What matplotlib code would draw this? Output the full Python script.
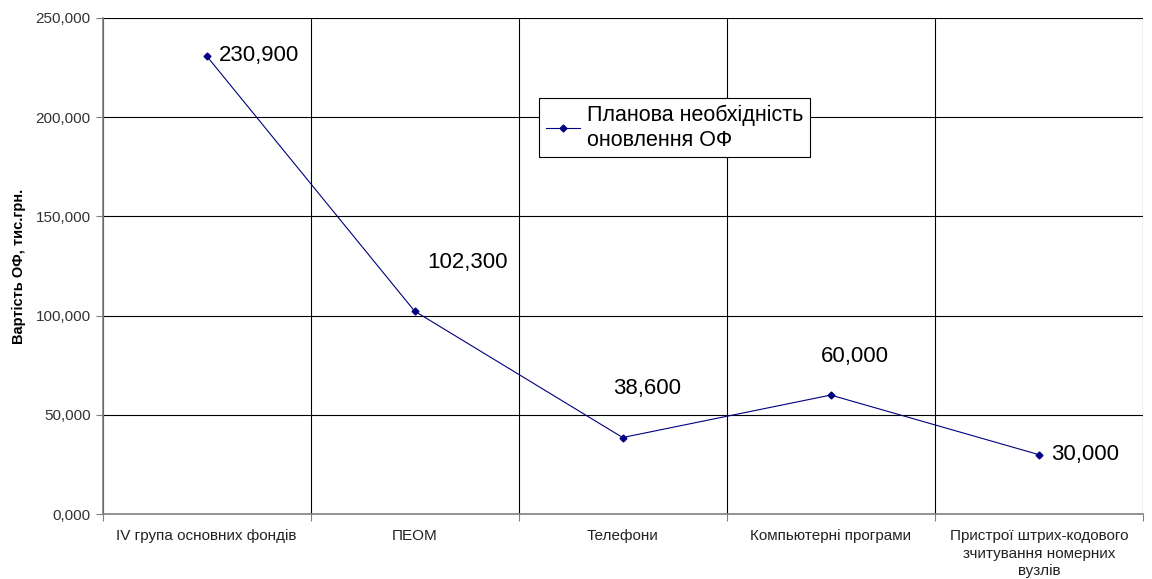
import numpy as np
import matplotlib
matplotlib.use("Agg")
from matplotlib import pyplot as plt
from matplotlib.ticker import FuncFormatter

plt.rcParams["font.family"] = ["Liberation Sans", "DejaVu Sans"]

# Data (тис.грн.)
categories = ["IV група основних фондів", "ПЕОМ", "Телефони", "Компьютерні програми",
              "Пристрої штрих-кодового\nзчитування номерних\nвузлів"]
values = [230.9, 102.3, 38.6, 60.0, 30.0]
label_offsets = [(9, 0), (9, 35), (-7, 35), (-7, 28), (9, 0)]  # points, as moved in the source
series_name = "Планова необхідність\nоновлення ОФ"

def comma_fmt(v, pos=None):
    return "{:,.3f}".format(v).replace(",", " ").replace(".", ",").replace(" ", "")

fig = plt.figure(figsize=(11.52, 5.79), dpi=100)
ax = fig.add_axes([0.089, 0.112, 0.903, 0.857])

x = np.arange(len(values)) + 0.5
ax.plot(x, values, color="#000080", lw=0.8, marker="D", markersize=3.5,
        markerfacecolor="#000080", markeredgecolor="#000080", label=series_name, zorder=3)

for xi, v, off in zip(x, values, label_offsets):
    ax.annotate(comma_fmt(v), (xi, v), xytext=off, textcoords="offset points",
                ha="left", va="center", fontsize=16, color="black")

ax.set_xlim(0, len(values))
ax.set_ylim(0, 250)
ax.set_yticks(np.arange(0, 251, 50))
ax.yaxis.set_major_formatter(FuncFormatter(comma_fmt))
ax.set_xticks(np.arange(0, len(values) + 1))
ax.set_xticklabels([])
ax.set_xticks(x, minor=True)
ax.set_xticklabels(categories, minor=True, fontsize=11, color="#222222", linespacing=1.3)
ax.tick_params(axis="x", which="minor", length=0, pad=11)
ax.tick_params(axis="x", which="major", length=5, color="#808080")
ax.tick_params(axis="y", length=5, color="#808080", labelsize=11, labelcolor="#333333")

ax.grid(True, which="major", color="black", lw=0.8)
ax.set_axisbelow(True)
for s in ["top", "right"]:
    ax.spines[s].set_visible(False)
for s in ["left", "bottom"]:
    ax.spines[s].set_color("#808080")
    ax.spines[s].set_linewidth(1.2)

ax.set_ylabel("Вартість ОФ, тис.грн.", fontsize=10.5, fontweight="bold", labelpad=7)

leg = ax.legend(loc="upper left", bbox_to_anchor=(0.42, 0.839), borderaxespad=0, fontsize=15.5,
                frameon=True, fancybox=False, edgecolor="black", framealpha=1, handlelength=1.6,
                borderpad=0.3, handletextpad=0.3, labelspacing=0.2)
leg.get_frame().set_linewidth(0.8)
for t in leg.get_texts():
    t.set_linespacing(1.25)

fig.savefig("out.png", dpi=100)
